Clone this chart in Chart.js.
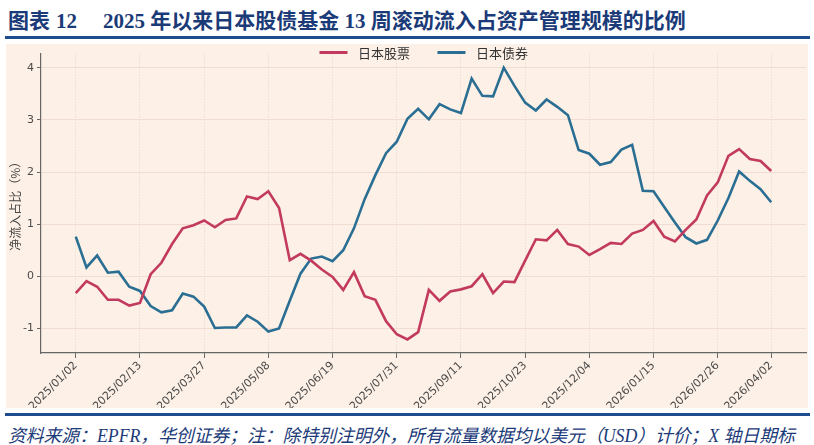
<!DOCTYPE html>
<html>
<head>
<meta charset="utf-8">
<script src="https://cdn.jsdelivr.net/npm/chart.js@4.4.1/dist/chart.umd.min.js"></script>
<style>
  html, body { margin: 0; padding: 0; background: #fff; width: 814px; height: 445px; overflow: hidden; }
  #title { position: absolute; left: 8px; top: 4px; line-height: 26px; white-space: nowrap;
    font: 700 21px "Liberation Serif", "Noto Sans CJK SC", serif; color: #1b3a78; }
  #title .num { margin-left: 6px; margin-right: 26px; }
  .rule { position: absolute; left: 5px; width: 805px; height: 3px; background: #1f4c8f; }
  #wrap { position: absolute; left: 6px; top: 44px; width: 802px; height: 364px; background: #fdf0e6; }
  #legend { position: absolute; top: 0; height: 16px; display: flex; align-items: center; transform: translateX(-50%);
    font: 13px "Noto Sans CJK SC", sans-serif; color: #333; white-space: nowrap; }
  #legend .item { display: flex; align-items: center; }
  #legend .item + .item { margin-left: 27px; }
  #legend .sw { width: 28px; height: 3px; margin-right: 11px; }
  #footer { position: absolute; left: 8px; top: 421px; width: 800px; overflow: hidden; white-space: nowrap; line-height: 20px;
    font: italic 17.8px "Liberation Serif", "Noto Sans CJK SC", serif; color: #1b3a78; }
</style>
</head>
<body>
<div id="title">图表<span class="num">12</span>2025 年以来日本股债基金 13 周滚动流入占资产管理规模的比例</div>
<div class="rule" style="top:36px"></div>
<div id="wrap">
  <canvas id="chart" width="802" height="364"></canvas>
  <div id="legend"></div>
</div>
<div class="rule" style="top:413px"></div>
<div id="footer">资料来源：EPFR，华创证券；注：除特别注明外，所有流量数据均以美元（USD）计价；X 轴日期标</div>

<script>
// weekly dates (x categories)
const dates = [
  '2025/01/02','2025/01/09','2025/01/16','2025/01/23','2025/01/30',
  '2025/02/06','2025/02/13','2025/02/20','2025/02/27',
  '2025/03/06','2025/03/13','2025/03/20','2025/03/27',
  '2025/04/03','2025/04/10','2025/04/17','2025/04/24',
  '2025/05/01','2025/05/08','2025/05/15','2025/05/22','2025/05/29',
  '2025/06/05','2025/06/12','2025/06/19','2025/06/26',
  '2025/07/03','2025/07/10','2025/07/17','2025/07/24','2025/07/31',
  '2025/08/07','2025/08/14','2025/08/21','2025/08/28',
  '2025/09/04','2025/09/11','2025/09/18','2025/09/25',
  '2025/10/02','2025/10/09','2025/10/16','2025/10/23','2025/10/30',
  '2025/11/06','2025/11/13','2025/11/20','2025/11/27',
  '2025/12/04','2025/12/11','2025/12/18','2025/12/25',
  '2026/01/01','2026/01/08','2026/01/15','2026/01/22','2026/01/29',
  '2026/02/05','2026/02/12','2026/02/19','2026/02/26',
  '2026/03/05','2026/03/12','2026/03/19','2026/03/26',
  '2026/04/02'
];

// 日本股票 (%)
const equity = [
  -0.32, -0.09, -0.20, -0.45, -0.45, -0.56, -0.51, 0.04, 0.26, 0.62,
  0.92, 0.98, 1.07, 0.94, 1.08, 1.11, 1.53, 1.48, 1.63, 1.31,
  0.31, 0.43, 0.30, 0.13, -0.01, -0.26, 0.08, -0.38, -0.45, -0.86,
  -1.11, -1.21, -1.07, -0.26, -0.47, -0.29, -0.25, -0.19, 0.04, -0.32,
  -0.10, -0.11, 0.30, 0.71, 0.69, 0.89, 0.62, 0.57, 0.41, 0.52,
  0.64, 0.62, 0.82, 0.89, 1.06, 0.76, 0.67, 0.89, 1.09, 1.55,
  1.80, 2.31, 2.44, 2.25, 2.21, 2.02
];

// 日本债券 (%)
const bonds = [
  0.76, 0.17, 0.40, 0.07, 0.09, -0.20, -0.28, -0.57, -0.69, -0.65,
  -0.33, -0.39, -0.58, -0.99, -0.98, -0.98, -0.75, -0.87, -1.06, -1.00,
  -0.47, 0.05, 0.34, 0.38, 0.29, 0.50, 0.92, 1.48, 1.94, 2.36,
  2.58, 3.02, 3.21, 3.01, 3.30, 3.20, 3.13, 3.79, 3.46, 3.45,
  4.00, 3.65, 3.33, 3.18, 3.39, 3.25, 3.09, 2.42, 2.35, 2.14,
  2.19, 2.43, 2.52, 1.64, 1.63, 1.33, 1.03, 0.75, 0.63, 0.70,
  1.07, 1.50, 2.01, 1.83, 1.67, 1.42
];

const xTickLabels = ['2025/01/02','2025/02/13','2025/03/27','2025/05/08','2025/06/19','2025/07/31',
  '2025/09/11','2025/10/23','2025/12/04','2026/01/15','2026/02/26','2026/04/02'];
const yTicks = [-1, 0, 1, 2, 3, 4];

const toPoints = arr => arr.map((v, i) => ({ x: i, y: v }));
const tickFont = { family: 'DejaVu Sans', size: 11 };

// html legend, built from the datasets
const htmlLegend = {
  id: 'htmlLegend',
  afterUpdate(chart) {
    const box = document.getElementById('legend');
    box.innerHTML = '';
    chart.data.datasets.forEach(ds => {
      const item = document.createElement('div');
      item.className = 'item';
      const sw = document.createElement('span');
      sw.className = 'sw';
      sw.style.background = ds.borderColor;
      item.appendChild(sw);
      item.appendChild(document.createTextNode(ds.label));
      box.appendChild(item);
    });
    const a = chart.chartArea;
    box.style.left = ((a.left + a.right) / 2) + 'px';
  }
};

new Chart(document.getElementById('chart'), {
  type: 'line',
  data: {
    datasets: [
      { label: '日本股票', data: toPoints(equity), borderColor: '#c23a5d', borderWidth: 2.6, pointRadius: 0, tension: 0 },
      { label: '日本债券', data: toPoints(bonds), borderColor: '#2a6f93', borderWidth: 2.6, pointRadius: 0, tension: 0 }
    ]
  },
  options: {
    responsive: false,
    animation: false,
    devicePixelRatio: 1,
    layout: { padding: { top: 5, right: 2, left: 0, bottom: 0 } },
    plugins: { legend: { display: false }, tooltip: { enabled: false } },
    scales: {
      x: {
        type: 'linear',
        min: -3.25,
        max: 68.25,
        afterBuildTicks: s => { s.ticks = xTickLabels.map(l => ({ value: dates.indexOf(l) })); },
        afterFit: s => { s.height = 55; },
        ticks: {
          autoSkip: false, maxRotation: 45, minRotation: 45, padding: 1,
          color: '#4a4a4a', font: tickFont,
          callback: v => dates[v]
        },
        grid: { color: 'rgba(190,165,150,0.35)', tickColor: '#666', tickLength: 5 },
        border: { color: '#666', width: 1.2, dash: [1, 2] }
      },
      y: {
        min: -1.47,
        max: 4.27,
        afterBuildTicks: s => { s.ticks = yTicks.map(v => ({ value: v })); },
        afterFit: s => { s.width = 35; },
        title: {
          display: true, text: '净流入占比（%）', color: '#444',
          font: { family: 'Noto Sans CJK SC', size: 12 }, padding: { top: 2, bottom: 0 }
        },
        ticks: { color: '#4a4a4a', font: tickFont, padding: 3 },
        grid: { color: '#f0dcd0', tickColor: '#666', tickLength: 4 },
        border: { color: '#666', width: 1.2 }
      }
    }
  },
  plugins: [htmlLegend]
});
</script>
</body>
</html>
